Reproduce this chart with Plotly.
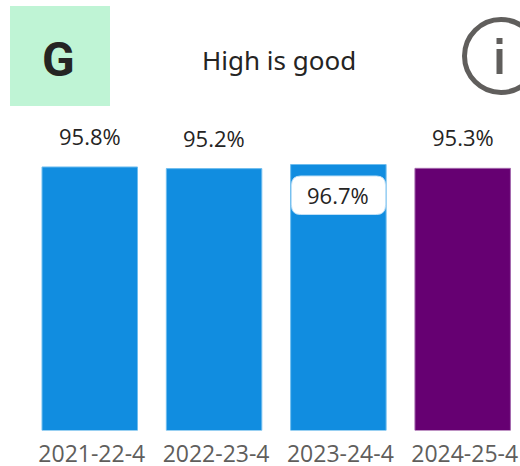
import plotly.graph_objects as go

categories = ["2021-22-4", "2022-23-4", "2023-24-4", "2024-25-4"]
values = [95.8, 95.2, 96.7, 95.3]
labels = ["95.8%", "95.2%", "96.7%", "95.3%"]
colors = ["#118DE0", "#118DE0", "#118DE0", "#660072"]
edges = ["#6FBDEE", "#6FBDEE", "#6FBDEE", "#A366AC"]
highlight = "2023-24-4"
rating = "G"
polarity = "High is good"

W, H = 520, 466
FONT = "Open Sans"

def px(x):
    return x / W

def py(y):
    return 1 - y / H

fig = go.Figure(go.Bar(
    x=list(range(len(categories))),
    y=values,
    width=0.768,
    marker=dict(color=colors, line=dict(color=edges, width=1)),
    hoverinfo="skip",
))

shapes = [
    dict(type="rect", xref="paper", yref="paper", x0=px(10), x1=px(110), y0=py(106), y1=py(6),
         fillcolor="#BFF4D5", line_width=0, layer="below"),
    dict(type="circle", xref="paper", yref="paper", x0=px(464.5), x1=px(537.5), y0=py(92.5), y1=py(19.5),
         line=dict(color="#605E5C", width=5), fillcolor="rgba(0,0,0,0)"),
    dict(type="rect", xref="paper", yref="paper", x0=px(496.5), x1=px(502.5), y0=py(44), y1=py(38),
         fillcolor="#605E5C", line_width=0),
    dict(type="rect", xref="paper", yref="paper", x0=px(496.5), x1=px(502.5), y0=py(74), y1=py(49),
         fillcolor="#605E5C", line_width=0),
]

annotations = [
    dict(text=f"<b>{rating}</b>", xref="paper", yref="paper", x=px(58.5), y=py(59),
         showarrow=False, font=dict(family="Roboto", size=48, color="#252423"),
         xanchor="center", yanchor="middle"),
    dict(text=polarity, xref="paper", yref="paper", x=px(278.5), y=py(60),
         showarrow=False, font=dict(family="Noto Sans", size=26, color="#252423"),
         xanchor="center", yanchor="middle"),
]

for i, (cat, val, lab) in enumerate(zip(categories, values, labels)):
    inside = cat == highlight
    if inside:
        # rounded white label pinned just under the top of the bar
        L, R, T, B, r = 291.5, 385.5, 176, 214.5, 9
        shapes.append(dict(
            type="path", xref="paper", yref="paper",
            path=(f"M {px(L+r)} {py(T)} L {px(R-r)} {py(T)} Q {px(R)} {py(T)} {px(R)} {py(T+r)} "
                  f"L {px(R)} {py(B-r)} Q {px(R)} {py(B)} {px(R-r)} {py(B)} "
                  f"L {px(L+r)} {py(B)} Q {px(L)} {py(B)} {px(L)} {py(B-r)} "
                  f"L {px(L)} {py(T+r)} Q {px(L)} {py(T)} {px(L+r)} {py(T)} Z"),
            fillcolor="#FFFFFF", line=dict(color="#BFE0F7", width=1),
        ))
    annotations.append(dict(
        text=lab, x=i, y=val, xref="x", yref="y", showarrow=False,
        yshift=-30 if inside else 31,
        font=dict(family=FONT, size=22, color="#252423"),
        xanchor="center", yanchor="middle",
    ))

fig.update_layout(
    width=W, height=H,
    margin=dict(l=0, r=0, t=0, b=0),
    paper_bgcolor="#FFFFFF", plot_bgcolor="#FFFFFF",
    showlegend=False,
    xaxis=dict(range=[-0.722, 3.461], tickmode="array", tickvals=list(range(len(categories))),
               ticktext=categories, showgrid=False, zeroline=False, showline=False, ticks="",
               ticklabelstandoff=7, ticklabelshift=2, automargin=False,
               tickfont=dict(family=FONT, size=23, color="#605E5C")),
    yaxis=dict(range=[0, 156.5], visible=False, domain=[35.5 / H, 1], automargin=False),
    shapes=shapes,
    annotations=annotations,
)

fig.write_html("out.html", config=dict(displayModeBar=False),
               post_script="document.body.style.margin='0';document.body.style.overflow='hidden';")
